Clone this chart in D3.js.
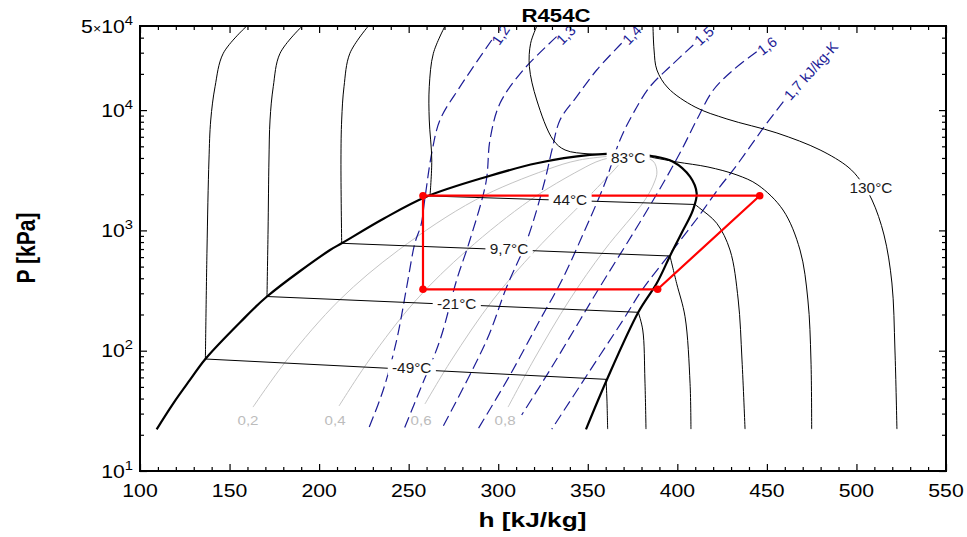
<!DOCTYPE html>
<html><head><meta charset="utf-8">
<script src="https://cdn.jsdelivr.net/npm/d3@7/dist/d3.min.js"></script>
<style>
html,body{margin:0;padding:0;background:#fff;}
svg{display:block;}
text{font-family:"Liberation Sans",Arial,Helvetica,sans-serif;}
</style></head>
<body>
<svg id="chart" width="967" height="537"></svg>
<script>
// ---------------- data (h in kJ/kg, P in kPa) ----------------
const hTicks = [100,150,200,250,300,350,400,450,500,550];
const pTicks = [10,100,1000,10000,50000];
const pTickLabels = [["","10","1"],["","10","2"],["","10","3"],["","10","4"],["5","10","4"]];

const domeLiquid = [[109.3,22.2],[118.6,36.5],[127.9,57.1],[136.5,85.3],[155.8,171.6],[170.9,282],[206.1,687],[212.6,781],[236.2,1256],[260.1,1913],[293.6,2795],[321.5,3612],[351.2,4236],[373.6,4360]];
const domeVapor = [[373.6,4360],[385.7,4155],[397.6,3725],[407.1,2795],[410.8,2034],[408.7,1477],[402.4,951.5],[395.9,612.7],[388.5,363.3],[378.2,208.5],[360.6,57.1],[349.0,22.2]];

const isoLabels = ["-49°C","-21°C","9,7°C","44°C","83°C","130°C"];
const isoLabelH = [251.7,276.8,306.0,340.1,372.5,508.1];
const isoLabelP = [72.8,247.7,710,1789,4052,2282];

const isoM49Liq = [[159.6,50000],[146.5,29670],[141.9,15650],[139.5,8275],[138.5,3848],[137.4,687],[136.5,85.3]];
const isoM49Vap = [[360.2,57.8],[360.7,38.9],[361.1,22.3]];
const isoM21Liq = [[190.6,50000],[178.2,29670],[174.4,15650],[172.6,8275],[172.0,3848],[171.5,1008],[170.9,282]];
const isoM21Vap = [[378.2,208.5],[380.7,148.6],[381.9,57.1],[382.5,22.3]];
const iso97Liq = [[227.5,50000],[217.2,29670],[213.9,15650],[212.6,8275],[212.2,3848],[212.6,781]];
const iso97Vap = [[395.9,612.7],[399.6,363.3],[404.3,191.7],[407.1,53.6],[407.6,22.3]];
const iso44Liq = [[270.3,50000],[263.8,29670],[261.5,15650],[261.5,8275],[262.9,3848],[261.9,1932]];
const iso44Vap = [[409.9,1642],[412.6,1525],[422.0,1146],[429.4,687],[434.0,263.9],[436.1,83.7],[437.8,22.3]];
const iso83Liq = [[321.6,50000],[318.1,35920],[317.4,22950],[321.5,12130],[330.7,5643],[337.3,4662],[351.2,4318],[373.6,4276]];
const iso83Vap = [[384.7,4075],[399.8,3703],[417.1,3365],[433.3,2887],[445.0,2385],[459.0,1477],[468.5,687],[472.9,264],[474.6,83.7],[475.0,22.3]];
const iso130 = [[386.4,50000],[387.0,31600],[388.6,21540],[394.8,15270],[409.9,10610],[427.7,8434],[455.6,6452],[479.7,4662],[495.3,3365],[502.0,2624],[508.7,1789],[515.4,915.6],[519.8,365.4],[521.5,101.3],[522.6,22.3]];

const qualityLabels = ["0,2","0,4","0,6","0,8"];
const qualityLabelH = [160.3,208.9,256.9,303.8];
const qualityLabelP = 26.2;
const q02 = [[163.1,34.0],[182.0,83.7],[211.4,263.9],[244.4,687],[287.2,1789],[326.6,3178],[345.4,3848],[373.6,4276]];
const q04 = [[211.1,34.7],[228.0,83.7],[254.2,263.9],[282.7,687],[317.9,1789],[345.7,3178],[357.6,3848],[373.6,4276]];
const q06 = [[259.1,36.1],[273.9,83.7],[297.0,263.9],[321.0,687],[348.6,1789],[364.7,3178],[369.7,3848],[373.6,4276]];
const q08 = [[305.5,34.0],[319.8,83.7],[339.8,263.9],[359.3,687],[381.9,1789],[387.0,2477],[388.6,3058],[386.4,3775],[373.6,4276]];

const sLabels = ["1,2","1,3","1,4","1,5","1,6","1,7 kJ/kg-K"];
const sLabelH = [301.4,337.8,374.7,414.9,450.1,474.6];
const sLabelP = [42100,42100,42100,41300,34110,21140];
const s12 = [[296.4,38240],[278.7,15650],[267.5,8275],[262.9,4402],[259.1,1859],[256.9,1109],[253.5,786],[248.9,338.4],[243.3,122.7],[235.8,47.1],[227.5,22.3]];
const s13 = [[332.6,40760],[314.0,21540],[301.0,11390],[295.4,5643],[293.2,2525],[284.2,832.3],[276.8,386.9],[267.5,122.7],[256.3,47.1],[247.4,22.3]];
const s14 = [[368.9,35920],[355.0,21540],[343.8,12920],[334.5,8275],[330.0,4662],[326.1,2624],[316.1,832.3],[304.7,338.4],[293.6,122.7],[268.4,22.3]];
const s15 = [[408.9,34770],[395.9,22950],[384.7,15650],[375.4,9407],[368.0,5643],[359.6,2477],[348.4,1008],[335.6,386.9],[323.3,180],[306.6,62.8],[288.7,22.3]];
const s16 = [[444.3,30590],[431.2,21540],[420.1,14690],[410.8,8275],[403.3,4963],[393.1,2624],[379.2,1175],[355.7,319.5],[345.7,180],[328.9,69.1],[313.1,29.2]];
const s17 = [[459.2,11740],[449.9,7768],[440.6,4963],[431.2,3178],[423.8,2309],[410.4,1220],[395.3,624.6],[380.3,319.5],[369.7,180],[349.6,62.8],[329.9,22.3]];

const cycleH = [258, 258, 389, 446];
const cycleP = [1943, 324, 324, 1943];

// ---------------- layout ----------------
const L = 140, R = 946, T = 26, B = 471;
const svg = d3.select("#chart");
const x = d3.scaleLinear().domain([100,550]).range([L,R]);
const y = d3.scaleLog().domain([10,50000]).range([B,T]);
const curve = d3.line().x(d=>x(d[0])).y(d=>y(d[1])).curve(d3.curveCatmullRom.alpha(0.5));
const straight = d3.line().x(d=>x(d[0])).y(d=>y(d[1]));

function stext(parent, px, py, str, o){
  const g = parent.append("g").attr("transform", `translate(${px},${py}) scale(${o.sx||1},1)` + (o.rot ? ` rotate(${o.rot})` : ""));
  const t = g.append("text").text(str)
    .attr("font-size", o.size).attr("fill", o.fill || "#000")
    .attr("text-anchor", o.anchor || "middle")
    .attr("font-weight", o.bold ? "bold" : "normal");
  if (o.central) t.attr("dominant-baseline","central");
  return {g, t};
}

svg.append("defs").append("clipPath").attr("id","plotclip")
  .append("rect").attr("x",L).attr("y",T).attr("width",R-L).attr("height",B-T);
const plot = svg.append("g").attr("clip-path","url(#plotclip)");

// quality lines
[q02,q04,q06,q08].forEach(q => plot.append("path").attr("d", curve(q))
  .attr("fill","none").attr("stroke","#c4c4c4").attr("stroke-width",1));
qualityLabels.forEach((s,i) => stext(plot, x(qualityLabelH[i]), y(qualityLabelP), s,
  {size:13.5, fill:"#bcbcbc", sx:1.12, central:true}));

// isentropes
[s12,s13,s14,s15,s16,s17].forEach(s => plot.append("path").attr("d", curve(s))
  .attr("fill","none").attr("stroke","#1c1c96").attr("stroke-width",1.2)
  .attr("stroke-dasharray","11,5"));
const sRot = [-56,-45,-47,-43,-38,-48];
sLabels.forEach((s,i) => stext(plot, x(sLabelH[i]), y(sLabelP[i]), s,
  {size:14.5, fill:"#1c1c96", rot:sRot[i], central:true}));

// isotherms
const isoPairs = [[isoM49Liq,isoM49Vap],[isoM21Liq,isoM21Vap],[iso97Liq,iso97Vap],[iso44Liq,iso44Vap],[iso83Liq,iso83Vap]];
isoPairs.forEach(([liq,vap]) => {
  plot.append("path").attr("d", curve(liq)).attr("fill","none").attr("stroke","#000").attr("stroke-width",1);
  plot.append("path").attr("d", straight([liq[liq.length-1], vap[0]])).attr("fill","none").attr("stroke","#000").attr("stroke-width",1);
  plot.append("path").attr("d", curve(vap)).attr("fill","none").attr("stroke","#000").attr("stroke-width",1);
});
plot.append("path").attr("d", curve(iso130)).attr("fill","none").attr("stroke","#000").attr("stroke-width",1);

// saturation dome
plot.append("path").attr("d", curve(domeLiquid.concat(domeVapor.slice(1))))
  .attr("fill","none").attr("stroke","#000").attr("stroke-width",2.2);

// refrigeration cycle
const cyc = cycleH.map((h,i)=>[h,cycleP[i]]);
plot.append("path").attr("d", straight(cyc.concat([cyc[0]])))
  .attr("fill","none").attr("stroke","#ff0000").attr("stroke-width",2.2).attr("stroke-linejoin","round");
plot.selectAll("circle.pt").data(cyc).enter().append("circle")
  .attr("cx", d=>x(d[0])).attr("cy", d=>y(d[1])).attr("r",3.8).attr("fill","#ff0000");

// isotherm labels with white boxes
isoLabels.forEach((s,i) => {
  const {g, t} = stext(plot, x(isoLabelH[i]), y(isoLabelP[i]), s, {size:14.5, fill:"#1a1a1a", sx:1.06, central:true});
  const bb = t.node().getBBox();
  g.insert("rect","text").attr("x", bb.x-4).attr("y", -8).attr("width", bb.width+8).attr("height", 16).attr("fill","#fff");
});

// frame
svg.append("rect").attr("x",L).attr("y",T).attr("width",R-L).attr("height",B-T)
  .attr("fill","none").attr("stroke","#000").attr("stroke-width",2);

// axes ticks (inward)
const xMinor = d3.range(100,551,10).filter(v => v % 50 !== 0);
const pMinor = [10,100,1000,10000].flatMap(d => d3.range(2,10).map(k => k*d)).filter(v => v < 50000);
function addAxis(axisFn, scale, vals, size, transform){
  const g = svg.append("g").attr("transform", transform)
    .call(axisFn(scale).tickValues(vals).tickSizeInner(-size).tickSizeOuter(0).tickFormat(""));
  g.select(".domain").remove();
  g.selectAll("line").attr("stroke","#000").attr("stroke-width",1.2);
}
addAxis(d3.axisBottom, x, hTicks, 7, `translate(0,${B})`);
addAxis(d3.axisBottom, x, xMinor, 4, `translate(0,${B})`);
addAxis(d3.axisTop, x, hTicks, 7, `translate(0,${T})`);
addAxis(d3.axisTop, x, xMinor, 4, `translate(0,${T})`);
addAxis(d3.axisLeft, y, pTicks.slice(0,4), 7, `translate(${L},0)`);
addAxis(d3.axisLeft, y, pMinor, 4, `translate(${L},0)`);
addAxis(d3.axisRight, y, pTicks.slice(0,4), 7, `translate(${R},0)`);
addAxis(d3.axisRight, y, pMinor, 4, `translate(${R},0)`);

// x tick labels
hTicks.forEach(v => stext(svg, x(v), 497, String(v), {size:18, sx:1.18}));

// y tick labels with superscripts
pTicks.forEach((v,i) => {
  const [pre, base, sup] = pTickLabels[i];
  const g = svg.append("g").attr("transform", `translate(133,${y(v)+6.5}) scale(1.18,1)`);
  const t = g.append("text").attr("text-anchor","end").attr("font-size",18).attr("fill","#000");
  if (pre) {
    t.append("tspan").text(pre);
    t.append("tspan").attr("font-size",12).text("×");
  }
  t.append("tspan").text(base);
  t.append("tspan").attr("font-size",12.5).attr("dy",-8).text(sup);
});

// titles
stext(svg, 556, 21.5, "R454C", {size:18.5, bold:true, sx:1.2});
stext(svg, 532.5, 526.5, "h [kJ/kg]", {size:21, bold:true, sx:1.25});
stext(svg, 35, 248, "P [kPa]", {size:21, bold:true, sx:1.2, rot:-90});
</script>
</body></html>
